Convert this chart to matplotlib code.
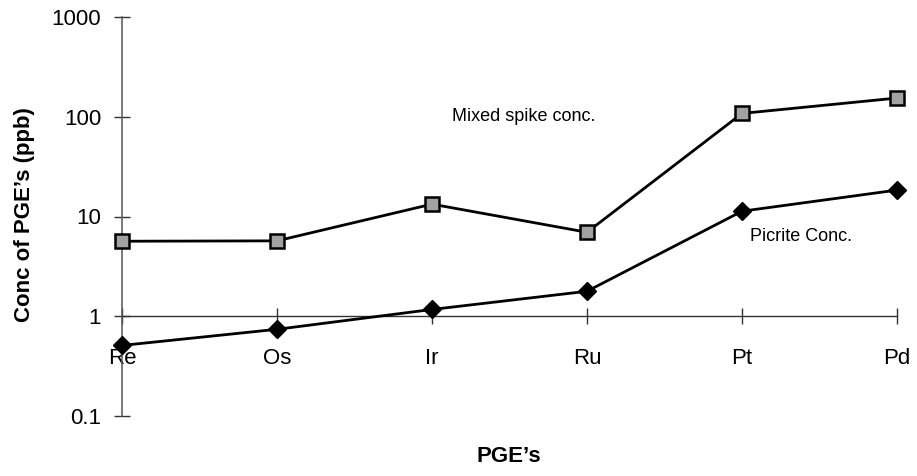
import matplotlib
matplotlib.use("Agg")
import matplotlib.pyplot as plt
from matplotlib.ticker import FixedLocator, FixedFormatter, NullLocator

plt.rcParams['font.family'] = ['Liberation Sans', 'DejaVu Sans']

elements = ["Re", "Os", "Ir", "Ru", "Pt", "Pd"]
mixed_spike = [5.65, 5.7, 13.3, 6.95, 108, 154]
picrite = [0.51, 0.74, 1.17, 1.78, 11.3, 18.4]
y_ticks = [0.1, 1, 10, 100, 1000]
y_tick_labels = ["0.1", "1", "10", "100", "1000"]

fig = plt.figure(figsize=(9.17, 4.76), dpi=100)
ax = fig.add_axes([122 / 917, 1 - 416 / 476, (897 - 122) / 917, (416 - 17) / 476])

x = list(range(len(elements)))
ax.plot(x, mixed_spike, color="black", lw=2.0, marker="s", ms=10,
        mfc="#a2a2a2", mec="black", mew=1.8, zorder=4, clip_on=False)
ax.plot(x, picrite, color="black", lw=2.0, marker="D", ms=9.5,
        mfc="black", mec="black", zorder=4, clip_on=False)

ax.set_yscale("log")
ax.set_ylim(0.1, 1000)
ax.set_xlim(0, len(elements) - 1)

ax.yaxis.set_major_locator(FixedLocator(y_ticks))
ax.yaxis.set_major_formatter(FixedFormatter(y_tick_labels))
ax.yaxis.set_minor_locator(NullLocator())
ax.set_xticks(x)
ax.set_xticklabels(elements)

for side in ("top", "right"):
    ax.spines[side].set_visible(False)
ax.spines["bottom"].set_position(("data", 1))
ax.spines["left"].set_color("#555555")
ax.spines["bottom"].set_color("#333333")
ax.spines["left"].set_linewidth(1.1)
ax.spines["bottom"].set_linewidth(1.0)

ax.tick_params(axis="both", direction="inout", length=12, width=1.0,
               color="#333333", labelsize=16)
ax.tick_params(axis="y", pad=9)
ax.tick_params(axis="x", pad=17)

ax.text(2.59, 100, "Mixed spike conc.", fontsize=13, ha="center", va="center")
ax.text(4.38, 6.3, "Picrite Conc.", fontsize=13, ha="center", va="center")

fig.text(25 / 917, 1 - 215 / 476, "Conc of PGE’s (ppb)", rotation=90,
         fontsize=16, fontweight="bold", ha="center", va="center")
fig.text(509 / 917, 1 - 457 / 476, "PGE’s", fontsize=16, fontweight="bold",
         ha="center", va="center")

fig.savefig("out.png", dpi=100)
